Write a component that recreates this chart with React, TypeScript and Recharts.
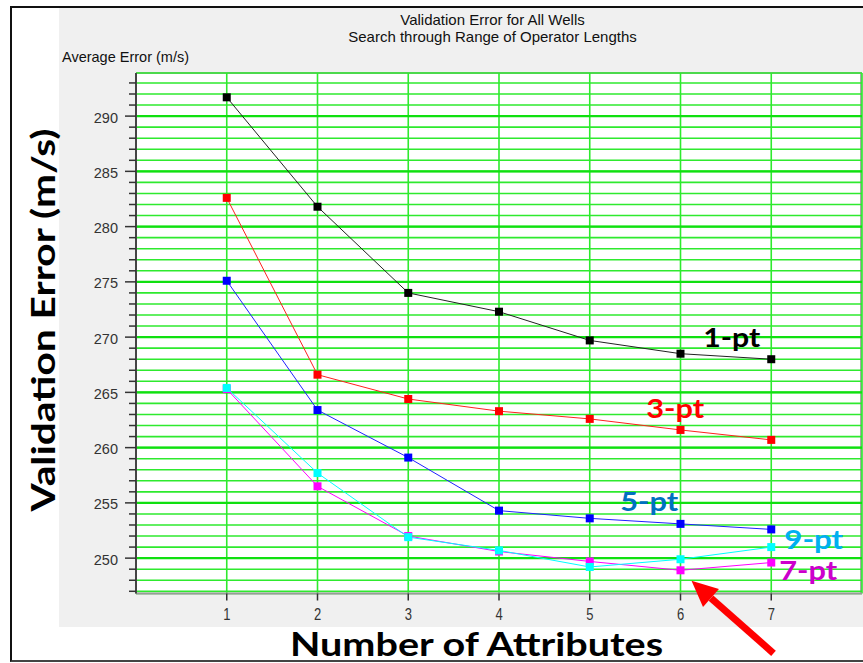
import React from "react";
import {
  LineChart,
  Line,
  XAxis,
  YAxis,
  CartesianGrid,
  ReferenceDot,
} from "recharts";

// number of attributes on the x axis
const attributes = [1, 2, 3, 4, 5, 6, 7];

// average validation error (m/s) per operator length
const onePt = [291.7, 281.8, 274.0, 272.3, 269.7, 268.5, 268.0];
const threePt = [282.6, 266.6, 264.4, 263.3, 262.6, 261.6, 260.7];
const fivePt = [275.1, 263.4, 259.1, 254.3, 253.6, 253.1, 252.6];
const sevenPt = [265.3, 256.5, 252.0, 250.6, 249.7, 248.9, 249.6];
const ninePt = [265.4, 257.7, 251.9, 250.7, 249.2, 249.9, 251.0];

const yTicks = [
  247, 248, 249, 250, 251, 252, 253, 254, 255, 256, 257, 258, 259, 260, 261,
  262, 263, 264, 265, 266, 267, 268, 269, 270, 271, 272, 273, 274, 275, 276,
  277, 278, 279, 280, 281, 282, 283, 284, 285, 286, 287, 288, 289, 290, 291,
  292, 293,
];
const yMajor = [250, 255, 260, 265, 270, 275, 280, 285, 290];

const data = attributes.map((n, i) => ({
  n,
  one: onePt[i],
  three: threePt[i],
  five: fivePt[i],
  seven: sevenPt[i],
  nine: ninePt[i],
}));

const SANS = "Liberation Sans, Arial, sans-serif";
const BOLD = "Lato, sans-serif";
const GRID = "#2eea2e";

const squareDot = (color: string) => (props: any) => {
  const { cx, cy, index } = props;
  if (cx == null || cy == null) return <g key={index} />;
  return <rect key={index} x={cx - 4} y={cy - 4} width={8} height={8} fill={color} />;
};

const endLabel =
  (text: string, color: string, dx: number, dy: number, anchor: "start" | "end", len: number) =>
  (props: any) => {
    const { x, y, index } = props;
    if (index !== attributes.length - 1) return null;
    return (
      <text
        key="lbl"
        x={x + dx}
        y={y + dy}
        textAnchor={anchor}
        fill={color}
        fontFamily={BOLD}
        fontWeight="bold"
        fontSize={26}
        textLength={len}
        lengthAdjust="spacingAndGlyphs"
      >
        {text}
      </text>
    );
  };

const YTick = (props: any) => {
  const { x, y, payload } = props;
  const major = payload.value % 5 === 0;
  return (
    <g>
      <line x1={x - (major ? 11 : 7)} x2={x} y1={y} y2={y} stroke="#333" strokeWidth={1.5} />
      {major && (
        <text x={x - 18} y={y + 6.5} textAnchor="end" fontSize={14.5} fill="#333" fontFamily={SANS}>
          {payload.value}
        </text>
      )}
    </g>
  );
};

const XTick = (props: any) => {
  const { x, y, payload } = props;
  return (
    <g>
      <line x1={x} x2={x} y1={y} y2={y + 7} stroke="#333" strokeWidth={1.5} />
      <text
        transform={`translate(${x},${y + 26}) scale(1,1.3)`}
        textAnchor="middle"
        fontSize={13}
        fill="#333"
        fontFamily={SANS}
      >
        {payload.value}
      </text>
    </g>
  );
};

// red arrow pointing at the 7-pt minimum
const Arrow = (props: any) => {
  const { cx, cy } = props;
  const tx = cx + 11;
  const ty = cy + 10.5;
  const bx = cx + 93;
  const by = cy + 83;
  const len = Math.hypot(tx - bx, ty - by);
  const ux = (tx - bx) / len;
  const uy = (ty - by) / len;
  const hx = tx - ux * 26;
  const hy = ty - uy * 26;
  const px = -uy;
  const py = ux;
  return (
    <g>
      <line x1={bx} y1={by} x2={hx} y2={hy} stroke="#ff0000" strokeWidth={7} />
      <polygon
        points={`${tx},${ty} ${hx + px * 12},${hy + py * 12} ${hx - px * 12},${hy - py * 12}`}
        fill="#ff0000"
      />
    </g>
  );
};

export default function App() {
  return (
    <div
      style={{
        position: "absolute",
        left: 0,
        top: 0,
        width: 863,
        height: 663,
        overflow: "hidden",
        background: "#fff",
      }}
    >
      <div
        style={{
          position: "absolute",
          left: 10,
          top: 6,
          width: 900,
          height: 652,
          border: "2px solid #111",
          borderBottomColor: "#444",
        }}
      />
      <div
        style={{
          position: "absolute",
          left: 59,
          top: 8,
          width: 804,
          height: 619,
          background: "#f0f0f0",
        }}
      />
      <div
        style={{
          position: "absolute",
          left: 136,
          top: 72,
          width: 726,
          height: 521.5,
          background: "#fff",
          borderTop: "2px solid #a8a8a8",
          borderRight: "2px solid #a8a8a8",
          boxSizing: "border-box",
        }}
      />
      <div style={{ position: "absolute", left: 0, top: 0 }}>
        <LineChart
          width={863}
          height={663}
          data={data}
          margin={{ top: 73, right: 1, left: 76, bottom: 40 }}
        >
          <CartesianGrid stroke={GRID} strokeWidth={1.6} />
          <CartesianGrid
            stroke="#10e010"
            strokeWidth={2.4}
            vertical={false}
            horizontalValues={yMajor}
          />
          <XAxis
            dataKey="n"
            type="number"
            domain={[0, 8]}
            ticks={attributes}
            height={29.5}
            tickSize={0}
            tickMargin={0}
            tickLine={false}
            tick={<XTick />}
            axisLine={{ stroke: "#999", strokeWidth: 2 }}
          />
          <YAxis
            type="number"
            domain={[246.8, 293.9]}
            ticks={yTicks}
            width={60}
            tickSize={0}
            tickMargin={0}
            tickLine={false}
            tick={<YTick />}
            interval={0}
            axisLine={{ stroke: "#444", strokeWidth: 2 }}
          />
          <Line
            dataKey="one"
            type="linear"
            stroke="#222"
            strokeWidth={1}
            dot={squareDot("#000")}
            activeDot={false}
            isAnimationActive={false}
            label={endLabel("1-pt", "#000", -11, -12.5, "end", 57)}
          />
          <Line
            dataKey="three"
            type="linear"
            stroke="#ff2020"
            strokeWidth={1}
            dot={squareDot("#ff0000")}
            activeDot={false}
            isAnimationActive={false}
            label={endLabel("3-pt", "#ff0000", -67, -22, "end", 58)}
          />
          <Line
            dataKey="five"
            type="linear"
            stroke="#2020ff"
            strokeWidth={1}
            dot={squareDot("#0000ff")}
            activeDot={false}
            isAnimationActive={false}
            label={endLabel("5-pt", "#0070c0", -93, -18.6, "end", 58)}
          />
          <Line
            dataKey="seven"
            type="linear"
            stroke="#ff00ff"
            strokeWidth={1}
            dot={squareDot("#ff00ff")}
            activeDot={false}
            isAnimationActive={false}
            label={endLabel("7-pt", "#cc00cc", 8, 17.7, "start", 58)}
          />
          <Line
            dataKey="nine"
            type="linear"
            stroke="#00ffff"
            strokeWidth={1}
            dot={squareDot("#00ffff")}
            activeDot={false}
            isAnimationActive={false}
            label={endLabel("9-pt", "#00b0f0", 13, 2, "start", 59)}
          />
          <ReferenceDot
            x={attributes[5]}
            y={sevenPt[5]}
            r={0}
            ifOverflow="visible"
            shape={<Arrow />}
          />
        </LineChart>
      </div>
      <svg
        width={863}
        height={663}
        style={{ position: "absolute", left: 0, top: 0, pointerEvents: "none" }}
      >
        <text x={492.5} y={24.5} textAnchor="middle" fontSize={15} fill="#111" fontFamily={SANS}>
          Validation Error for All Wells
        </text>
        <text x={492.5} y={41.5} textAnchor="middle" fontSize={15} fill="#111" fontFamily={SANS}>
          Search through Range of Operator Lengths
        </text>
        <text x={62} y={62} fontSize={14.5} fill="#111" fontFamily={SANS}>
          Average Error (m/s)
        </text>
        <text
          transform="translate(54.5,320) rotate(-90)"
          textAnchor="middle"
          fontSize={33}
          fontWeight="bold"
          fill="#000"
          fontFamily={BOLD}
          textLength={383}
          lengthAdjust="spacingAndGlyphs"
        >
          Validation Error (m/s)
        </text>
        <text
          x={476.5}
          y={656}
          textAnchor="middle"
          fontSize={32}
          fontWeight="bold"
          fill="#000"
          fontFamily={BOLD}
          textLength={373}
          lengthAdjust="spacingAndGlyphs"
        >
          Number of Attributes
        </text>
      </svg>
    </div>
  );
}
